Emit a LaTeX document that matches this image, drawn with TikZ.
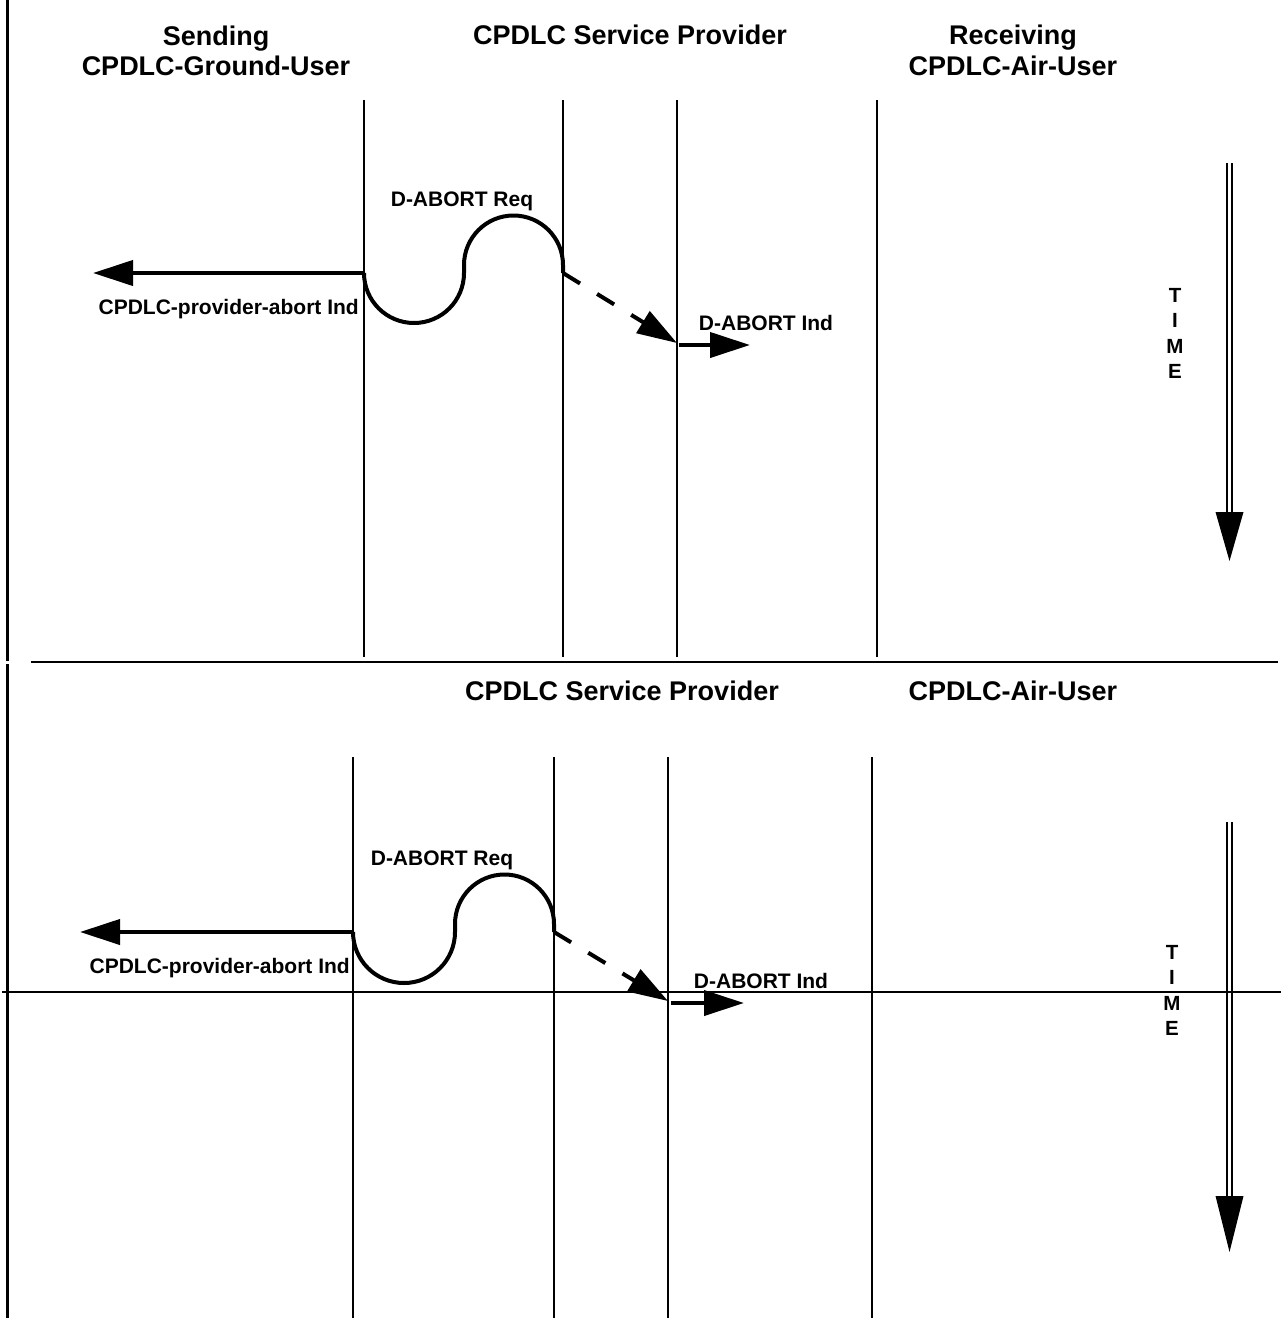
\documentclass[tikz,border=0pt]{standalone}
\usepackage{fontspec}
\setmainfont{Liberation Sans}
\usetikzlibrary{arrows.meta}
\begin{document}
\begin{tikzpicture}[x=1pt,y=-1pt,
  head/.style={font=\fontsize{27}{30}\selectfont\bfseries, inner sep=0pt, anchor=base},
  lbl/.style={font=\fontsize{21}{24}\selectfont\bfseries, inner sep=0pt, anchor=base},
  timelbl/.style={font=\fontsize{20.5}{25.5}\selectfont\bfseries, inner sep=0pt, align=center, anchor=north},
  life/.style={line width=1.8pt},
  msg/.style={line width=4pt, -{Triangle[length=40pt,width=25pt]}},
  dmsg/.style={line width=4pt, dash pattern=on 20pt off 20pt, -{Triangle[length=40pt,width=25pt]}},
  curve/.style={line width=4pt, line join=round},
  timeshaft/.style={line width=1.5pt},
]
\useasboundingbox (0,0) rectangle (1281,1318);

% frame edge on the left and panel separators
\draw[line width=2.2pt] (7.5,0) -- (7.5,661);
\draw[line width=2.2pt] (7.5,664) -- (7.5,1318);
\draw[line width=1.3pt] (31,662) -- (1278,662);
\draw[line width=1.3pt] (2,992) -- (1281,992);

% ================= upper panel =================
\node[head] (hA) at (216,45) {Sending};
\node[head] (hB) at (216,75) {CPDLC-Ground-User};
\node[head] (hC) at (630,44) {CPDLC Service Provider};
\node[head] (hD) at (1013,44) {Receiving};
\node[head] (hE) at (1013,75) {CPDLC-Air-User};

\foreach \n/\x in {a/364, b/563, c/677, d/877} {
  \coordinate (ut\n) at (\x,100);
  \coordinate (ub\n) at (\x,657);
  \draw[life] (ut\n) -- (ub\n);
}

\coordinate (uS) at (364,273);
\coordinate (uL) at (93,273);
\coordinate (uM) at (464,273);
\coordinate (uE) at (563,273);
\coordinate (uR) at (677,343);
\coordinate (uR2) at (679,345);
\coordinate (uRT) at (750,345);

\draw[msg] (uS) -- (uL);
\draw[curve] (uS) arc[start angle=180, end angle=0, radius=50]
  -- ++(0,-8) arc[start angle=180, end angle=360, radius=49.5] -- (uE);
\draw[dmsg] (uE) -- (uR);
\draw[msg] (uR2) -- (uRT);

\node[lbl] (uReq) at (462,206) {D-ABORT Req};
\node[lbl, anchor=base east] (uInd) at (359,314) {CPDLC-provider-abort Ind};
\node[lbl] (uDInd) at (766,330) {D-ABORT Ind};

\node[timelbl] (uTime) at (1175,288) {T\\I\\M\\E};
\coordinate (uTa) at (1229.5,163);
\coordinate (uTb) at (1229.5,512);
\coordinate (uTt) at (1229.5,561);
\draw[timeshaft] ([xshift=-2.5pt]uTa) -- ([xshift=-2.5pt]uTb);
\draw[timeshaft] ([xshift=2.5pt]uTa) -- ([xshift=2.5pt]uTb);
\fill ([xshift=-14pt]uTb) -- ([xshift=14pt]uTb) -- (uTt) -- cycle;

% ================= lower panel =================
\node[head] (lC) at (622,700) {CPDLC Service Provider};
\node[head] (lE) at (1013,700) {CPDLC-Air-User};

\foreach \n/\x in {a/353, b/554, c/668, d/872} {
  \coordinate (lt\n) at (\x,757);
  \coordinate (lb\n) at (\x,1318);
  \draw[life] (lt\n) -- (lb\n);
}

\coordinate (lS) at (353,932);
\coordinate (lL) at (80,932);
\coordinate (lE2) at (554,932);
\coordinate (lR) at (668,1001);
\coordinate (lR2) at (671,1003);
\coordinate (lRT) at (744,1003);

\draw[msg] (lS) -- (lL);
\draw[curve] (lS) arc[start angle=180, end angle=0, radius=51]
  -- ++(0,-8) arc[start angle=180, end angle=360, radius=49.5] -- (lE2);
\draw[dmsg] (lE2) -- (lR);
\draw[msg] (lR2) -- (lRT);

\node[lbl] (lReq) at (442,865) {D-ABORT Req};
\node[lbl, anchor=base east] (lInd) at (350,973) {CPDLC-provider-abort Ind};
\node[lbl] (lDInd) at (761,988) {D-ABORT Ind};

\node[timelbl] (lTime) at (1172,945) {T\\I\\M\\E};
\coordinate (lTa) at (1229.5,822);
\coordinate (lTb) at (1229.5,1196);
\coordinate (lTt) at (1229.5,1252);
\draw[timeshaft] ([xshift=-2.5pt]lTa) -- ([xshift=-2.5pt]lTb);
\draw[timeshaft] ([xshift=2.5pt]lTa) -- ([xshift=2.5pt]lTb);
\fill ([xshift=-14pt]lTb) -- ([xshift=14pt]lTb) -- (lTt) -- cycle;
\end{tikzpicture}
\end{document}
